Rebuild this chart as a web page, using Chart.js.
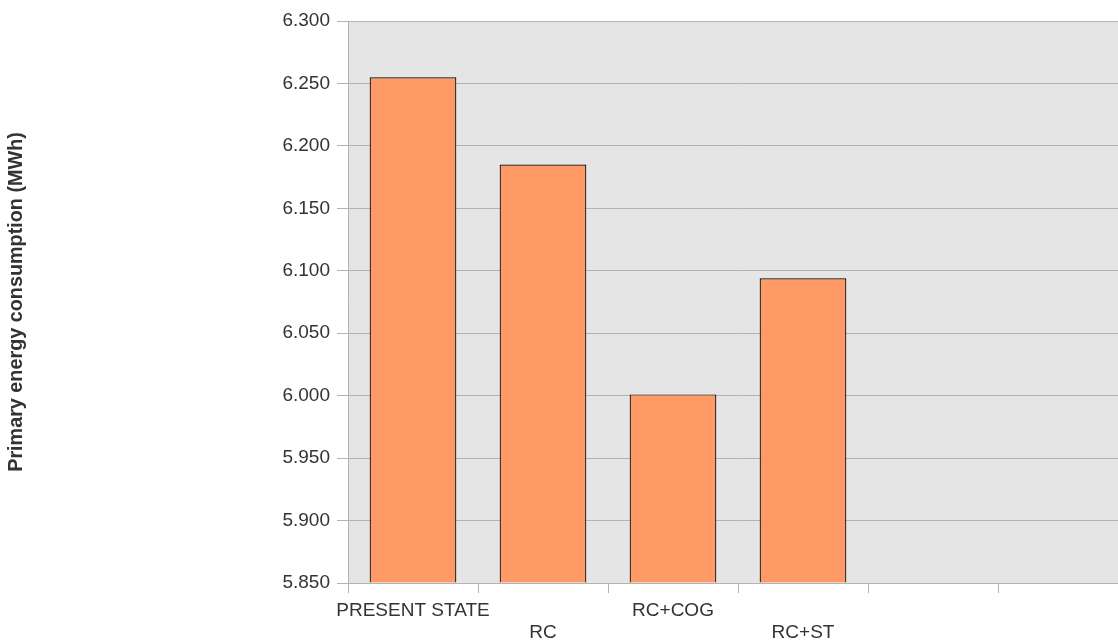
<!DOCTYPE html>
<html>
<head>
<meta charset="utf-8">
<script src="https://cdn.jsdelivr.net/npm/chart.js@4"></script>
<style>
  html, body { margin: 0; padding: 0; background: #fff; overflow: hidden; }
  canvas { display: block; }
</style>
</head>
<body>
<canvas id="energyChart" width="1128" height="641"></canvas>
<script>
const categories = ['PRESENT STATE', 'RC', 'RC+COG', 'RC+ST', '', ''];
const consumption = [6.255, 6.185, 6.001, 6.094, null, null];
const yMin = 5.85;
const yMax = 6.3;
const yStep = 0.05;
const yTitle = 'Primary energy consumption (MWh)';

const plotBg = {
  id: 'plotBg',
  beforeDraw(chart) {
    const a = chart.chartArea;
    const ctx = chart.ctx;
    ctx.save();
    ctx.fillStyle = '#e5e5e5';
    ctx.fillRect(a.left, a.top, a.right - a.left, a.bottom - a.top);
    ctx.restore();
  }
};

Chart.defaults.font.family = '"Liberation Sans", Arial, sans-serif';
Chart.defaults.color = '#333';

const ctx = document.getElementById('energyChart').getContext('2d');
new Chart(ctx, {
  type: 'bar',
  data: {
    labels: categories,
    datasets: [{
      data: consumption,
      backgroundColor: '#ff9966',
      borderColor: '#000',
      borderWidth: 1.2,
      categoryPercentage: 1,
      barPercentage: 0.667,
      base: yMin
    }]
  },
  options: {
    responsive: false,
    devicePixelRatio: 1,
    animation: false,
    layout: { padding: { top: 21, left: 0, right: 0, bottom: 0 } },
    plugins: {
      legend: { display: false },
      tooltip: { enabled: false }
    },
    scales: {
      x: {
        grid: {
          offset: true,
          drawOnChartArea: false,
          color: '#b3b3b3',
          tickLength: 10
        },
        border: { color: '#b3b3b3' },
        ticks: {
          autoSkip: false,
          maxRotation: 0,
          padding: 6,
          font: { size: 19 },
          callback: function (v, i) {
            const lab = categories[i];
            return i % 2 === 1 ? ['', lab] : lab;
          }
        },
        afterFit(scale) { scale.height = 58; }
      },
      y: {
        min: yMin,
        max: yMax,
        grid: { color: '#b3b3b3', tickLength: 11 },
        border: { color: '#b3b3b3' },
        ticks: {
          stepSize: yStep,
          padding: 7,
          font: { size: 19 },
          callback: v => v.toFixed(3)
        },
        title: {
          display: true,
          text: yTitle,
          color: '#333',
          font: { size: 19.8, weight: 'bold' },
          padding: { top: 5, bottom: 0 }
        },
        afterFit(scale) { scale.width = 348; }
      }
    }
  },
  plugins: [plotBg]
});
</script>
</body>
</html>
